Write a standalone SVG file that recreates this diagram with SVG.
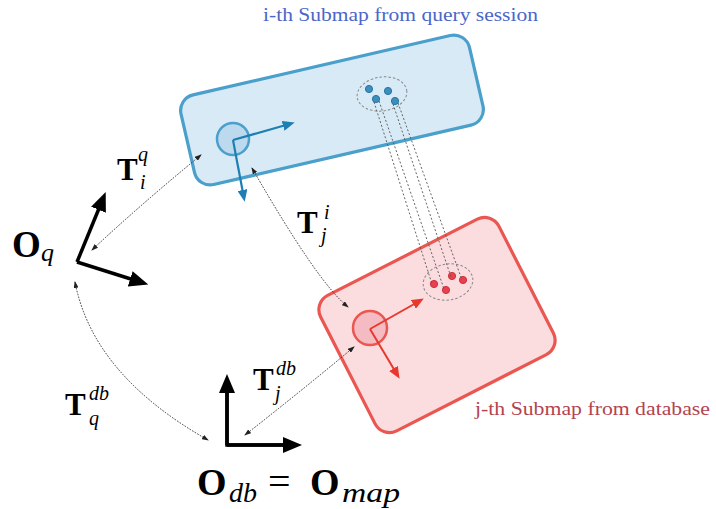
<svg xmlns="http://www.w3.org/2000/svg" width="716" height="509" viewBox="0 0 716 509">
<defs>
<style>
.math{font-family:"Liberation Serif","DejaVu Serif",serif;fill:#000}
.bold{font-weight:bold}
.it{font-style:italic}
.cap{font-family:"Liberation Serif","DejaVu Serif",serif;font-size:18px}
.frame{stroke:#000;stroke-width:3.5;fill:none}
.conn{stroke:#333;stroke-width:1;fill:none;stroke-dasharray:1.6 1.4}
.match{stroke:#555;stroke-width:0.9;fill:none;stroke-dasharray:2 2}
.cluster{fill:none;stroke:#888;stroke-width:1;stroke-dasharray:2.5 2}
</style>
<marker id="bk" markerUnits="userSpaceOnUse" markerWidth="19" markerHeight="16" refX="4" refY="8" orient="auto" viewBox="0 0 19 16"><path d="M0,0 L19,8 L0,16 Z" fill="#000"/></marker>
<marker id="bl" markerUnits="userSpaceOnUse" markerWidth="12" markerHeight="10" refX="3" refY="5" orient="auto" viewBox="0 0 12 10"><path d="M0,0 L12,5 L0,10 Z" fill="#1f7fb3"/></marker>
<marker id="rd" markerUnits="userSpaceOnUse" markerWidth="12" markerHeight="10" refX="3" refY="5" orient="auto" viewBox="0 0 12 10"><path d="M0,0 L12,5 L0,10 Z" fill="#e8382e"/></marker>
<marker id="sm" markerUnits="userSpaceOnUse" markerWidth="7" markerHeight="5" refX="6" refY="2.5" orient="auto-start-reverse" viewBox="0 0 7 5"><path d="M0,0 L7,2.5 L0,5 Z" fill="#222"/></marker>
</defs>
<rect width="716" height="509" fill="#fff"/>

<g id="submap-query">
<rect x="-148" y="-46" width="296" height="92" rx="16" transform="translate(332,110) rotate(-13)" fill="#d8eaf5" stroke="#4a9fcb" stroke-width="3.2"/>
<circle cx="233" cy="139" r="16" fill="#bcd9ee" stroke="#4a9fcb" stroke-width="2.5"/>
<ellipse cx="382" cy="94" rx="25" ry="17" transform="rotate(-8 382 94)" class="cluster"/>
<g fill="#3b8fbf" stroke="#2a74a0" stroke-width="1">
<circle cx="369" cy="89" r="3.6"/><circle cx="388" cy="91" r="3.6"/><circle cx="376" cy="99" r="3.6"/><circle cx="395" cy="101" r="3.6"/>
</g>
<text class="cap" x="263" y="21" fill="#4b66c9" textLength="275" lengthAdjust="spacingAndGlyphs">i-th Submap from query session</text>
</g>

<g id="submap-db">
<rect x="-100" y="-76" width="200" height="152" rx="16" transform="translate(437,325) rotate(-27)" fill="#fbdcdf" stroke="#ea5650" stroke-width="3.2"/>
<circle cx="370" cy="328" r="17" fill="#f4bcc2" stroke="#ea5650" stroke-width="2.5"/>
<ellipse cx="448" cy="282" rx="25" ry="18" transform="rotate(-10 448 282)" class="cluster"/>
<g fill="#e8404e" stroke="#d03040" stroke-width="1">
<circle cx="434" cy="284" r="3.6"/><circle cx="446" cy="290" r="3.6"/><circle cx="452" cy="276" r="3.6"/><circle cx="463" cy="280" r="3.6"/>
</g>
<text class="cap" x="475" y="415" fill="#b3434f" textLength="235" lengthAdjust="spacingAndGlyphs">j-th Submap from database</text>
</g>

<g id="frame-q">
<line x1="77" y1="262" x2="100" y2="206" class="frame" marker-end="url(#bk)"/>
<line x1="77" y1="262" x2="134" y2="280" class="frame" marker-end="url(#bk)"/>
<text class="math bold" x="12" y="257" font-size="37">O</text>
<text class="math it" x="41" y="261" font-size="26">q</text>
</g>

<g id="frame-db">
<polyline points="227,390 227,445 286,445" class="frame" stroke-linejoin="miter"/>
<line x1="227" y1="445" x2="227" y2="389" class="frame" marker-end="url(#bk)"/>
<line x1="227" y1="445" x2="287" y2="445" class="frame" marker-end="url(#bk)"/>
<text class="math bold" x="197" y="495" font-size="38">O</text>
<text class="math it" x="229" y="502" font-size="28">db</text>
<text class="math" x="268" y="495" font-size="40">=</text>
<text class="math bold" x="310" y="495" font-size="38">O</text>
<text class="math it" x="342" y="502" font-size="28" textLength="58" lengthAdjust="spacingAndGlyphs">map</text>
</g>

<g id="frame-query-submap-axes">
<line x1="233" y1="140" x2="286" y2="125" stroke="#1f7fb3" stroke-width="2.2" marker-end="url(#bl)"/>
<line x1="233" y1="140" x2="243" y2="193" stroke="#1f7fb3" stroke-width="2.2" marker-end="url(#bl)"/>
</g>
<g id="frame-db-submap-axes">
<line x1="370" y1="329" x2="416" y2="303" stroke="#e8382e" stroke-width="2" marker-end="url(#rd)"/>
<line x1="370" y1="329" x2="395" y2="371" stroke="#e8382e" stroke-width="2" marker-end="url(#rd)"/>
</g>

<g id="connectors">
<line x1="374" y1="102" x2="432" y2="284" class="match"/>
<line x1="379" y1="101" x2="444" y2="289" class="match"/>
<line x1="393" y1="104" x2="451" y2="277" class="match"/>
<line x1="398" y1="103" x2="462" y2="280" class="match"/>
<path d="M92,250 Q140,205 201,155" class="conn" marker-start="url(#sm)" marker-end="url(#sm)"/>
<path d="M252,168 Q318,283 348,307" class="conn" marker-start="url(#sm)" marker-end="url(#sm)"/>
<path d="M75,282 Q93,375 208,440" class="conn" marker-start="url(#sm)" marker-end="url(#sm)"/>
<path d="M245,435 Q300,392 354,347" class="conn" marker-start="url(#sm)" marker-end="url(#sm)"/>
</g>

<g id="labels">
<text class="math bold" x="117" y="180" font-size="31">T</text>
<text class="math it" x="138" y="161" font-size="20">q</text>
<text class="math it" x="140" y="189" font-size="20">i</text>
<text class="math bold" x="297" y="233" font-size="31">T</text>
<text class="math it" x="324" y="219" font-size="20">i</text>
<text class="math it" x="321" y="242" font-size="20">j</text>
<text class="math bold" x="65" y="415" font-size="31">T</text>
<text class="math it" x="89" y="400" font-size="20">db</text>
<text class="math it" x="89" y="425" font-size="20">q</text>
<text class="math bold" x="253" y="390" font-size="31">T</text>
<text class="math it" x="276" y="375" font-size="20">db</text>
<text class="math it" x="275" y="400" font-size="20">j</text>
</g>
</svg>
